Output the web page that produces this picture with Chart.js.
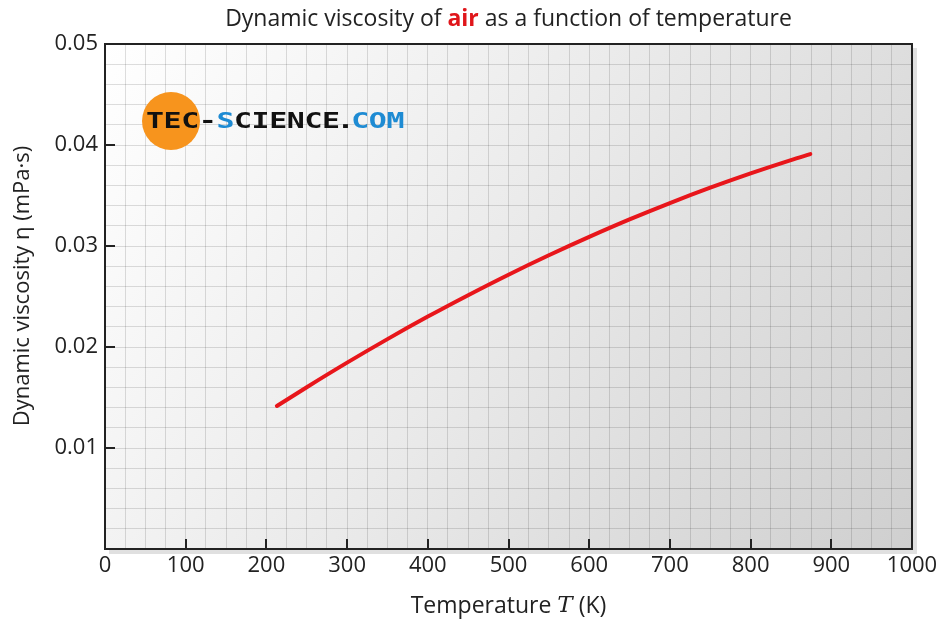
<!DOCTYPE html>
<html>
<head>
<meta charset="utf-8">
<script src="https://cdn.jsdelivr.net/npm/chart.js@4/dist/chart.umd.min.js"></script>
<style>
  html, body { margin: 0; padding: 0; background: #fff; }
  #wrap { width: 949px; height: 622px; }
</style>
</head>
<body>
<div id="wrap"><canvas id="chart" width="949" height="622"></canvas></div>
<script>
// values
const temperatures = [213, 250, 300, 350, 400, 450, 500, 550, 600, 650, 700, 750, 800, 850, 874];
const viscosity = [0.01416, 0.01602, 0.01845, 0.02078, 0.02301, 0.02513, 0.02716, 0.02908, 0.0309, 0.03263, 0.03425, 0.03577, 0.03719, 0.03851, 0.0391];

const xTickLabels = [0, 100, 200, 300, 400, 500, 600, 700, 800, 900, 1000];
const yTickLabels = [0.01, 0.02, 0.03, 0.04, 0.05];

const FONT = '"Open Sans", "DejaVu Sans", sans-serif';

const points = temperatures.map((t, i) => ({ x: t, y: viscosity[i] }));

// background, frame, inner ticks, titles and logo
const decorations = {
  id: 'decorations',
  beforeDraw(chart) {
    const { ctx, chartArea: a } = chart;
    ctx.save();
    // soft shadow on right / bottom
    ctx.fillStyle = 'rgba(0,0,0,0.12)';
    ctx.fillRect(a.left + 4, a.top + 4, a.width + 1, a.height + 1);
    const g = ctx.createLinearGradient(a.left, a.top, a.right, a.bottom);
    g.addColorStop(0, '#ffffff');
    g.addColorStop(0.5, '#e9e9e9');
    g.addColorStop(1, '#cfcfcf');
    ctx.fillStyle = g;
    ctx.fillRect(a.left, a.top, a.width, a.height);
    ctx.restore();
  },
  afterDatasetsDraw(chart) {
    const { ctx, chartArea: a, scales: { x, y } } = chart;
    ctx.save();

    // frame
    ctx.strokeStyle = '#222';
    ctx.lineWidth = 2;
    ctx.strokeRect(a.left, a.top, a.width, a.height);

    // inner tick marks at labelled values
    ctx.beginPath();
    xTickLabels.forEach(v => {
      if (v === 0 || v === 1000) return;
      const px = Math.round(x.getPixelForValue(v));
      ctx.moveTo(px, a.bottom);
      ctx.lineTo(px, a.bottom - 10);
    });
    yTickLabels.forEach(v => {
      if (v === 0.05) return;
      const py = Math.round(y.getPixelForValue(v));
      ctx.moveTo(a.left, py);
      ctx.lineTo(a.left + 10, py);
    });
    ctx.stroke();

    // title with red bold "air"
    const midX = (a.left + a.right) / 2;
    const parts = [
      { t: 'Dynamic viscosity of ', f: '23px ' + FONT, c: '#222' },
      { t: 'air', f: 'bold 23px ' + FONT, c: '#e0161b' },
      { t: ' as a function of temperature', f: '23px ' + FONT, c: '#222' }
    ];
    drawParts(ctx, parts, midX, 19);

    // x axis title with italic T
    const xParts = [
      { t: 'Temperature ', f: '23px ' + FONT, c: '#222' },
      { t: 'T', f: 'italic 23px "DejaVu Serif", serif', c: '#222' },
      { t: ' (K)', f: '23px ' + FONT, c: '#222' }
    ];
    drawParts(ctx, xParts, midX, 606);

    // y axis title
    ctx.save();
    ctx.translate(23, 286);
    ctx.rotate(-Math.PI / 2);
    ctx.font = '22px ' + FONT;
    ctx.fillStyle = '#222';
    ctx.textAlign = 'center';
    ctx.textBaseline = 'middle';
    ctx.fillText('Dynamic viscosity \u03b7 (mPa\u00b7s)', 0, 0);
    ctx.restore();

    // logo
    ctx.fillStyle = '#f7941d';
    ctx.beginPath();
    ctx.arc(171, 121, 29, 0, Math.PI * 2);
    ctx.fill();
    const logo = 'TEC-SCIENCE.COM';
    const colors = ['#111', '#111', '#111', '#111', '#1e8bd3', '#111', '#111', '#111', '#111', '#111', '#111', '#111', '#1e8bd3', '#1e8bd3', '#1e8bd3'];
    ctx.font = 'bold 26px "DejaVu Sans Mono", monospace';
    ctx.textBaseline = 'middle';
    ctx.textAlign = 'center';
    const step = 17.6;
    for (let i = 0; i < logo.length; i++) {
      let cx = 155 + i * step;
      if (i >= 12) cx -= 6;
      if (i === 11) cx -= 3;
      ctx.fillStyle = colors[i];
      ctx.save();
      ctx.translate(cx, 122);
      ctx.scale(1.15, 0.85);
      ctx.fillText(logo[i], 0, 0);
      ctx.restore();
    }
    ctx.restore();
  }
};

function drawParts(ctx, parts, cx, cy) {
  let total = 0;
  parts.forEach(p => { ctx.font = p.f; p.w = ctx.measureText(p.t).width; total += p.w; });
  let x0 = cx - total / 2;
  ctx.textAlign = 'left';
  ctx.textBaseline = 'middle';
  parts.forEach(p => {
    ctx.font = p.f;
    ctx.fillStyle = p.c;
    ctx.fillText(p.t, x0, cy);
    x0 += p.w;
  });
}

new Chart(document.getElementById('chart'), {
  type: 'line',
  data: {
    datasets: [{
      data: points,
      borderColor: '#e8161b',
      borderWidth: 4,
      borderCapStyle: 'round',
      pointRadius: 0,
      cubicInterpolationMode: 'monotone',
      fill: false
    }]
  },
  options: {
    responsive: false,
    animation: false,
    layout: { padding: { left: 0, top: 44, right: 37, bottom: 0 } },
    plugins: {
      legend: { display: false },
      tooltip: { enabled: false },
      title: { display: false }
    },
    scales: {
      x: {
        type: 'linear',
        min: 0,
        max: 1000,
        afterFit: s => { s.height = 73; },
        ticks: {
          stepSize: 25,
          autoSkip: false,
          maxRotation: 0,
          minRotation: 0,
          padding: 4,
          color: '#222',
          font: { family: FONT, size: 22 },
          callback: v => (xTickLabels.includes(v) ? String(v) : '')
        },
        grid: { color: 'rgba(0,0,0,0.13)', lineWidth: 1, drawTicks: false },
        border: { display: false }
      },
      y: {
        min: 0,
        max: 0.05,
        afterFit: s => { s.width = 105; },
        ticks: {
          stepSize: 0.002,
          autoSkip: false,
          padding: 7,
          color: '#222',
          font: { family: FONT, size: 22 },
          callback: v => {
            const r = Math.round(v * 1000);
            return (r % 10 === 0 && r !== 0) ? (r / 1000).toFixed(2) : '';
          }
        },
        grid: { color: 'rgba(0,0,0,0.13)', lineWidth: 1, drawTicks: false },
        border: { display: false }
      }
    }
  },
  plugins: [decorations]
});
</script>
</body>
</html>
